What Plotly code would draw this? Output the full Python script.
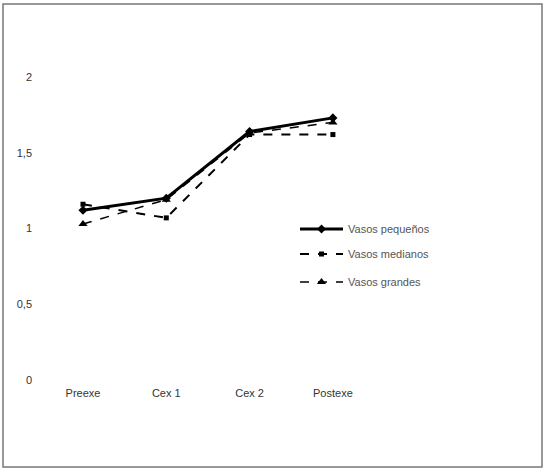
import plotly.graph_objects as go

categories = ["Preexe", "Cex 1", "Cex 2", "Postexe"]
vasos_pequenos = [1.12, 1.20, 1.64, 1.73]
vasos_medianos = [1.16, 1.07, 1.62, 1.62]
vasos_grandes = [1.03, 1.19, 1.63, 1.70]
y_tickvals = [0, 0.5, 1, 1.5, 2]
y_ticktext = ["0", "0,5", "1", "1,5", "2"]

x_idx = list(range(len(categories)))

fig = go.Figure()
fig.add_trace(go.Scatter(x=x_idx, y=vasos_pequenos, name="Vasos pequeños", mode="lines+markers",
                         line=dict(color="black", width=3),
                         marker=dict(symbol="diamond", size=7, color="black"), legend="legend"))
fig.add_trace(go.Scatter(x=x_idx, y=vasos_medianos, name="Vasos medianos", mode="lines+markers",
                         line=dict(color="black", width=2, dash="dash"),
                         marker=dict(symbol="square", size=5, color="black"), legend="legend2"))
fig.add_trace(go.Scatter(x=x_idx, y=vasos_grandes, name="Vasos grandes", mode="lines+markers",
                         line=dict(color="black", width=1.5, dash="dash"),
                         marker=dict(symbol="triangle-up", size=8, color="black"), legend="legend3"))

L, R, T, B = 40, 15, 20, 89
W = 545 - L - R
H = 469 - T - B

def px(x):
    return (x - L) / W

def py(y):
    return (469 - B - y) / H

legend_common = dict(bgcolor="rgba(0,0,0,0)", font=dict(family="Arial, Liberation Sans", size=11, color="#555"),
                     xanchor="left", yanchor="middle", itemwidth=43, visible=True)

fig.update_layout(
    width=545, height=469,
    showlegend=True,
    margin=dict(l=L, r=R, t=T, b=B),
    paper_bgcolor="white", plot_bgcolor="white",
    font=dict(family="Arial, Liberation Sans", size=11, color="#333"),
    xaxis=dict(tickmode="array", tickvals=x_idx, ticktext=categories, range=[-0.516, 5.366],
               showgrid=False, zeroline=False, showline=False, ticks="", ticklabelstandoff=5),
    yaxis=dict(tickmode="array", tickvals=y_tickvals, ticktext=y_ticktext, range=[0, 2.376],
               showgrid=False, zeroline=False, showline=False, ticks="", ticklabelstandoff=7),
    legend=dict(x=px(295), y=py(229), **legend_common),
    legend2=dict(x=px(295), y=py(254), **legend_common),
    legend3=dict(x=px(295), y=py(282), **legend_common),
    shapes=[dict(type="rect", xref="paper", yref="paper",
                 x0=px(3), x1=px(542), y0=py(467), y1=py(4),
                 line=dict(color="#777", width=1.5))],
)

fig.write_html("out.html", config={"displayModeBar": False},
               post_script="document.body.style.margin='0';document.body.style.overflow='hidden';")
